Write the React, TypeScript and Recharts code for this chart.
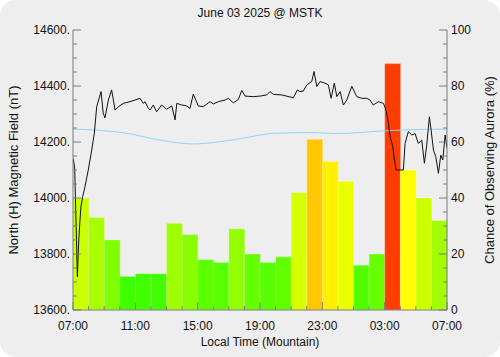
import React from "react";
import { ComposedChart, Bar, Line, XAxis, YAxis, Cell } from "recharts";

// chance of observing aurora, one bar per hour starting 07:00
const auroraChance = [40, 33, 25, 12, 13, 13, 31, 27, 18, 17, 29, 20, 17, 19, 42, 61, 53, 46, 16, 20, 88, 50, 40, 32];

// H component trace (hours after 07:00, nT)
const fieldHours = [
  0.02, 0.11, 0.28, 0.37, 0.45, 0.51, 0.62, 0.77, 0.98, 1.2, 1.37, 1.52, 1.8, 1.94, 2.05, 2.27, 2.48, 2.7, 2.91, 3.23,
  3.66, 4.3, 4.51, 4.62, 4.83, 4.94, 5.15, 5.37, 5.69, 6.01, 6.34, 6.55, 6.66, 6.98, 7.25, 7.51, 7.72, 8.04, 8.36, 8.79,
  9.01, 9.33, 9.76, 9.97, 10.29, 10.61, 10.83, 11.04, 11.57, 12.0, 12.43, 12.64, 12.86, 13.4, 14.14, 14.4, 14.57, 14.78, 15.0, 15.32,
  15.47, 15.64, 15.85, 16.17, 16.39, 16.56, 16.77, 16.93, 17.14, 17.35, 17.57, 17.89, 18.21, 18.53, 18.85, 19.06, 19.27, 19.6, 19.92, 20.09,
  20.24, 20.35, 20.41, 20.52, 20.6, 20.73, 21.2, 21.31, 21.52, 21.74, 21.95, 22.16, 22.38, 22.55, 22.7, 22.87, 22.98, 23.13, 23.28, 23.45,
  23.6, 23.73, 23.88, 24.0,
];
const fieldNT = [
  14140, 14107, 13719, 13850, 13921, 13969, 14005, 14040, 14100, 14171, 14232, 14326, 14380, 14303, 14286, 14350, 14386, 14314, 14326, 14338,
  14344, 14356, 14338, 14344, 14321, 14314, 14332, 14308, 14332, 14317, 14329, 14279, 14338, 14332, 14330, 14320, 14371, 14329, 14326, 14344,
  14336, 14344, 14350, 14356, 14340, 14352, 14384, 14364, 14362, 14364, 14368, 14380, 14370, 14368, 14358, 14386, 14380, 14382, 14404, 14416,
  14452, 14398, 14416, 14410, 14404, 14356, 14410, 14362, 14380, 14332, 14350, 14399, 14362, 14356, 14356, 14350, 14332, 14344, 14338, 14314,
  14267, 14219, 14207, 14183, 14148, 14100, 14100, 14195, 14237, 14225, 14230, 14195, 14207, 14124, 14189, 14290, 14243, 14171, 14148, 14088,
  14153, 14136, 14225, 14177,
];

// quiet-day baseline
const baselineHours = [0, 1.3, 3.45, 5.58, 7.72, 9.43, 11.15, 12.86, 15.42, 16.93, 19.7, 21.2, 24];
const baselineNT = [14246, 14243, 14231, 14207, 14193, 14201, 14216, 14231, 14234, 14230, 14239, 14243, 14246];

const hourTicks = Array.from({ length: 25 }, (_, i) => i);
const fieldTicks = Array.from({ length: 21 }, (_, i) => 13600 + i * 50);
const chanceTicks = Array.from({ length: 21 }, (_, i) => i * 5);

const barData = auroraChance.map((v, i) => ({ slot: i, chance: v }));
const fieldData = fieldHours.map((h, i) => ({ h, nT: fieldNT[i] }));
const baselineData = baselineHours.map((h, i) => ({ h, nT: baselineNT[i] }));

const AXIS = "#7a7a7a";
const FONT = "'Liberation Sans', Arial, sans-serif";

const chanceColor = (v: number) => `hsl(${120 - 1.2 * v}, 100%, 50%)`;
const hourLabel = (h: number) => `${String((7 + h) % 24).padStart(2, "0")}:00`;

const BottomTick = ({ x, y, payload }: any) => {
  const major = payload.value % 4 === 0;
  return (
    <g>
      <line x1={x} x2={x} y1={y} y2={y - (major ? 8 : 4)} stroke={AXIS} />
      {major && (
        <text x={x} y={y + 20} textAnchor="middle" fontSize={12} fontFamily={FONT} fill="#111">
          {hourLabel(payload.value)}
        </text>
      )}
    </g>
  );
};

const TopTick = ({ x, y, payload }: any) => {
  const major = payload.value % 4 === 0;
  return <line x1={x} x2={x} y1={y} y2={y + (major ? 8 : 4)} stroke={AXIS} />;
};

const LeftTick = ({ x, y, payload }: any) => {
  const major = payload.value % 200 === 0;
  return (
    <g>
      <line x1={x} x2={x + (major ? 8 : 4)} y1={y} y2={y} stroke={AXIS} />
      {major && (
        <text x={x - 3} y={y + 4} textAnchor="end" fontSize={12} fontFamily={FONT} fill="#111">
          {`${payload.value}.`}
        </text>
      )}
    </g>
  );
};

const RightTick = ({ x, y, payload }: any) => {
  const major = payload.value % 20 === 0;
  return (
    <g>
      <line x1={x} x2={x - (major ? 8 : 4)} y1={y} y2={y} stroke={AXIS} />
      {major && (
        <text x={x + 4} y={y + 4} textAnchor="start" fontSize={12} fontFamily={FONT} fill="#111">
          {payload.value}
        </text>
      )}
    </g>
  );
};

export default function App() {
  return (
    <div style={{ position: "absolute", left: 0, top: 0, width: 500, height: 357, background: "#fff" }}>
      <div style={{ position: "relative", width: 500, height: 357, background: "#eeeeee", borderRadius: 16 }}>
        <ComposedChart width={500} height={357} data={barData} margin={{ top: 30, right: 0, bottom: 0, left: 0 }} barGap={0} barCategoryGap={0}>
          <XAxis xAxisId="bars" dataKey="slot" type="category" hide />
          <XAxis xAxisId="b" dataKey="h" type="number" domain={[0, 24]} ticks={hourTicks} interval={0} height={47}
            tickSize={0} tickMargin={0} tickLine={false} tick={<BottomTick />} axisLine={{ stroke: AXIS }} allowDataOverflow />
          <XAxis xAxisId="t" dataKey="h" type="number" orientation="top" domain={[0, 24]} ticks={hourTicks} interval={0} height={0}
            tickSize={0} tickMargin={0} tickLine={false} tick={<TopTick />} axisLine={{ stroke: AXIS }} allowDataOverflow />
          <YAxis yAxisId="nT" type="number" domain={[13600, 14600]} ticks={fieldTicks} interval={0} width={73}
            tickSize={0} tickMargin={0} tickLine={false} tick={<LeftTick />} axisLine={{ stroke: AXIS }} allowDataOverflow />
          <YAxis yAxisId="pct" orientation="right" type="number" domain={[0, 100]} ticks={chanceTicks} interval={0} width={53}
            tickSize={0} tickMargin={0} tickLine={false} tick={<RightTick />} axisLine={{ stroke: AXIS }} allowDataOverflow />
          <Bar xAxisId="bars" yAxisId="pct" dataKey="chance" isAnimationActive={false}
            stroke="rgba(255,255,255,0.3)" strokeWidth={1}>
            {barData.map((d, i) => (
              <Cell key={i} fill={chanceColor(d.chance)} />
            ))}
          </Bar>
          <Line xAxisId="t" yAxisId="nT" data={baselineData} dataKey="nT" type="monotone" dot={false}
            stroke="#8fd6f2" strokeWidth={1} isAnimationActive={false} />
          <Line xAxisId="b" yAxisId="nT" data={fieldData} dataKey="nT" type="linear" dot={false}
            stroke="#111" strokeWidth={1} isAnimationActive={false} />
        </ComposedChart>
        <svg width={500} height={357} style={{ position: "absolute", left: 0, top: 0, pointerEvents: "none" }}>
          <text x={260} y={17} textAnchor="middle" fontSize={12} fontFamily={FONT} fill="#111">June 03 2025 @ MSTK</text>
          <text x={260} y={346} textAnchor="middle" fontSize={12} fontFamily={FONT} fill="#111">Local Time (Mountain)</text>
          <text transform="translate(18,170) rotate(-90)" textAnchor="middle" fontSize={13} fontFamily={FONT} fill="#111">
            North (H) Magnetic Field (nT)
          </text>
          <text transform="translate(494,170) rotate(-90)" textAnchor="middle" fontSize={13} fontFamily={FONT} fill="#111">
            Chance of Observing Aurora (%)
          </text>
        </svg>
      </div>
    </div>
  );
}
